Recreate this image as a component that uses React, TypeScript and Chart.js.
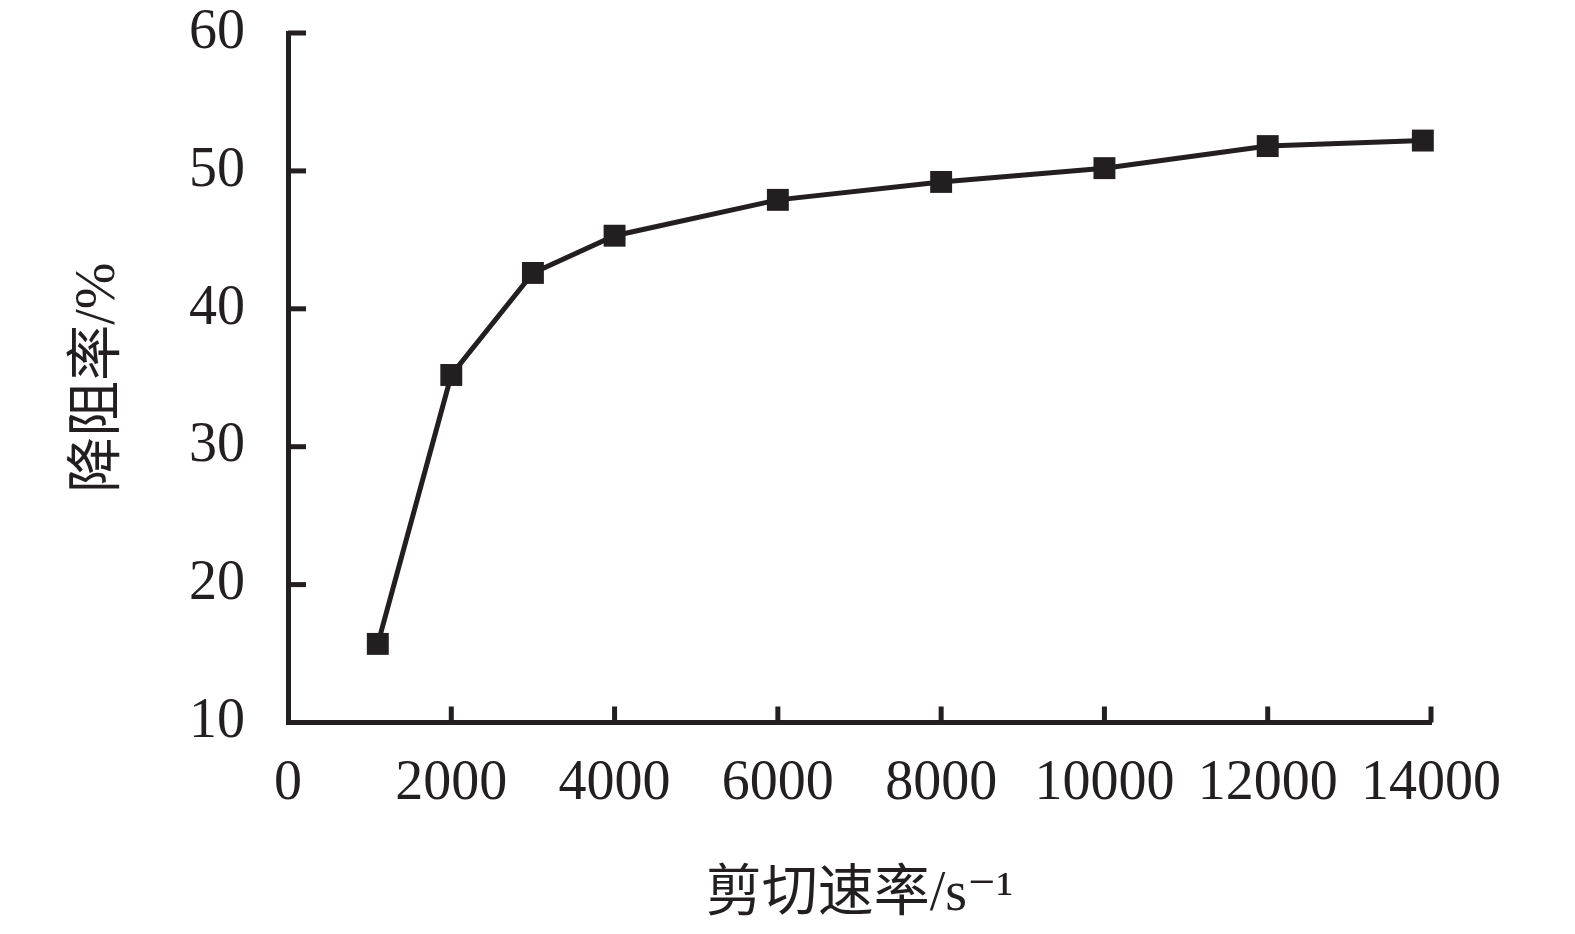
import React, { useEffect, useRef } from "react";
import { Chart, registerables } from "chart.js";

Chart.register(...registerables);

const shearRate: number[] = [1100, 2000, 3000, 4000, 6000, 8000, 10000, 12000, 13900];
const dragReduction: number[] = [15.7, 35.2, 42.6, 45.3, 47.9, 49.2, 50.2, 51.8, 52.2];
const xTicks: number[] = [0, 2000, 4000, 6000, 8000, 10000, 12000, 14000];
const yTicks: number[] = [10, 20, 30, 40, 50, 60];
const xTitle = "剪切速率/s⁻¹";
const yTitle = "降阻率/%";

const INK = "#231f20";
const SERIF = "'Liberation Serif', 'DejaVu Serif', 'Noto Sans CJK SC', serif";

const innerTicks = {
  id: "innerTicks",
  afterDatasetsDraw(chart: any) {
    const { ctx, scales } = chart;
    const x = scales.x;
    const y = scales.y;
    ctx.save();
    ctx.strokeStyle = INK;
    ctx.lineWidth = 5;
    ctx.lineCap = "butt";
    const bottom = y.getPixelForValue(10);
    const left = x.getPixelForValue(0);
    xTicks.forEach((v) => {
      if (v === 0) return;
      const px = x.getPixelForValue(v);
      ctx.beginPath();
      ctx.moveTo(px, bottom);
      ctx.lineTo(px, bottom - 16);
      ctx.stroke();
    });
    yTicks.forEach((v) => {
      const py = y.getPixelForValue(v);
      ctx.beginPath();
      ctx.moveTo(left, py);
      ctx.lineTo(left + 18, py);
      ctx.stroke();
    });
    ctx.restore();
  },
};

export default function App() {
  const canvasRef = useRef<HTMLCanvasElement | null>(null);

  useEffect(() => {
    document.body.style.margin = "0";
    const canvas = canvasRef.current;
    if (!canvas) return;
    const chart = new Chart(canvas, {
      type: "line",
      data: {
        datasets: [
          {
            data: shearRate.map((xv, i) => ({ x: xv, y: dragReduction[i] })),
            borderColor: INK,
            backgroundColor: INK,
            borderWidth: 5,
            pointStyle: "rect",
            pointRadius: 15.5,
            pointBorderWidth: 0,
            pointBackgroundColor: INK,
            tension: 0,
            clip: false as any,
          },
        ],
      },
      options: {
        responsive: false,
        animation: false,
        events: [],
        layout: { padding: { left: 0, right: 144, top: 33, bottom: 0 } },
        plugins: {
          legend: { display: false },
          tooltip: { enabled: false },
        },
        scales: {
          x: {
            type: "linear",
            min: 0,
            max: 14000,
            afterBuildTicks: (s: any) => {
              s.ticks = xTicks.map((v) => ({ value: v }));
            },
            afterFit: (s: any) => {
              s.height = 211.5;
            },
            ticks: {
              padding: 28,
              color: INK,
              font: { family: SERIF, size: 56 },
              maxRotation: 0,
              autoSkip: false,
              callback: (v: any) => String(v),
            },
            grid: { display: true, drawOnChartArea: false, drawTicks: false, color: "rgba(0,0,0,0)" },
            border: { display: true, color: INK, width: 5 },
            title: {
              display: true,
              text: xTitle,
              color: INK,
              font: { family: SERIF, size: 56 },
              padding: { top: 0, bottom: 5 },
            },
          },
          y: {
            type: "linear",
            min: 10,
            max: 60,
            afterBuildTicks: (s: any) => {
              s.ticks = yTicks.map((v) => ({ value: v }));
            },
            afterFit: (s: any) => {
              s.width = 288;
              s.paddingTop = 0;
              s.paddingBottom = 0;
            },
            ticks: {
              padding: 43,
              color: INK,
              font: { family: SERIF, size: 56 },
              callback: (v: any) => String(v),
            },
            grid: { display: true, drawOnChartArea: false, drawTicks: false, color: "rgba(0,0,0,0)" },
            border: { display: true, color: INK, width: 5 },
            title: {
              display: true,
              text: yTitle,
              color: INK,
              font: { family: SERIF, size: 56 },
              padding: { top: 66, bottom: 0 },
            },
          },
        },
      },
      plugins: [innerTicks],
    });
    return () => chart.destroy();
  }, []);

  return (
    <div style={{ width: 1575, height: 934, background: "#fff" }}>
      <canvas ref={canvasRef} width={1575} height={934} style={{ display: "block" }} />
    </div>
  );
}
